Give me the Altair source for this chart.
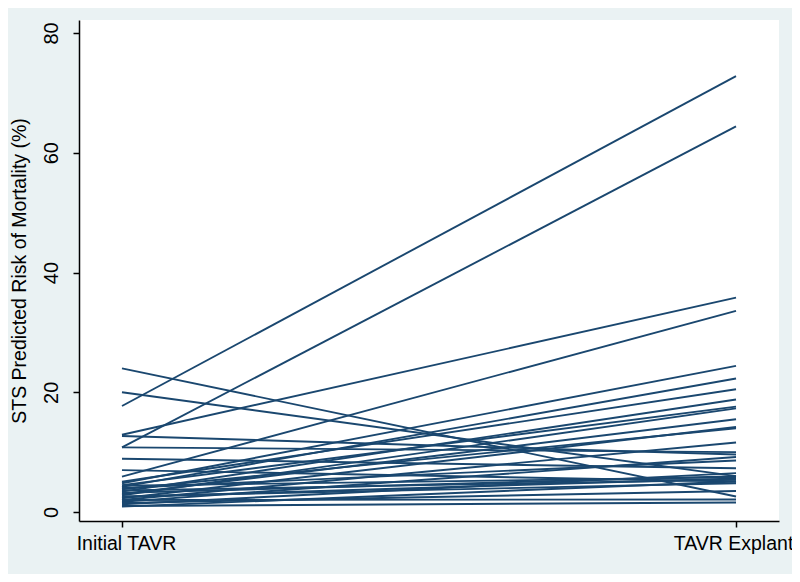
import altair as alt
import pandas as pd

# STS predicted risk of mortality (%) per patient
initial_tavr = [17.7, 10.8, 12.9, 5.9, 24.0, 20.0, 12.7, 10.8, 8.9, 7.0,
                4.8, 4.2, 5.06, 3.4, 4.5, 2.8, 3.0, 2.3, 3.8, 2.0,
                1.7, 4.0, 1.3, 3.2, 2.5, 0.9, 1.5, 2.0, 1.0, 3.6, 2.6, 4.4]
tavr_explant = [72.8, 64.4, 35.8, 33.6, 2.6, 6.0, 9.6, 10.0, 7.3, 5.1,
                24.4, 22.3, 20.5, 18.8, 17.6, 17.3, 15.5, 14.2, 14.0, 11.6,
                9.2, 8.6, 6.5, 6.0, 5.6, 5.1, 3.5, 2.1, 1.6, 5.4, 4.8, 5.8]
stage_labels = ["Initial TAVR", "TAVR Explant"]

rows = []
for i, (a, b) in enumerate(zip(initial_tavr, tavr_explant)):
    rows.append({"id": i, "stage": 0, "risk": a})
    rows.append({"id": i, "stage": 1, "risk": b})
df = pd.DataFrame(rows)

font = "Liberation Sans"

chart = alt.Chart(df).mark_line(color="#1a476f", strokeWidth=1.9).encode(
    x=alt.X("stage:Q",
            scale=alt.Scale(domain=[-0.07, 1.07], nice=False, zero=False),
            axis=alt.Axis(values=[0, 1], title=None,
                          labelExpr="datum.value == 0 ? '" + stage_labels[0] + "' : '" + stage_labels[1] + "'",
                          labelFontSize=19.5, labelPadding=7, tickSize=6,
                          labelOffset={"condition": {"test": "datum.value == 1", "value": -3}, "value": 4},
                          labelFlush=False, labelOverlap=False)),
    y=alt.Y("risk:Q",
            scale=alt.Scale(domain=[-1.5, 82.17], nice=False, zero=False),
            axis=alt.Axis(values=[0, 20, 40, 60, 80],
                          title="STS Predicted Risk of Mortality (%)",
                          titleFontSize=19.5, titleFontWeight="normal", titlePadding=12,
                          labelAngle=270, labelAlign="center", labelBaseline="bottom",
                          labelFontSize=20, labelPadding=12, tickSize=6)),
    detail="id:N",
).properties(
    width=700, height=501,
    background="#eaf2f3",
    padding={"left": 71, "top": 12, "right": 13, "bottom": 53},
    autosize=alt.AutoSizeParams(type="none"),
).configure_view(
    fill="white", stroke=None
).configure_axis(
    grid=False, domainColor="black", domainWidth=1.5, tickColor="black",
    tickWidth=1.5, labelColor="black", titleColor="black",
    labelFont=font, titleFont=font
)

chart.save("out.html", embed_options={"renderer": "svg", "actions": False})
